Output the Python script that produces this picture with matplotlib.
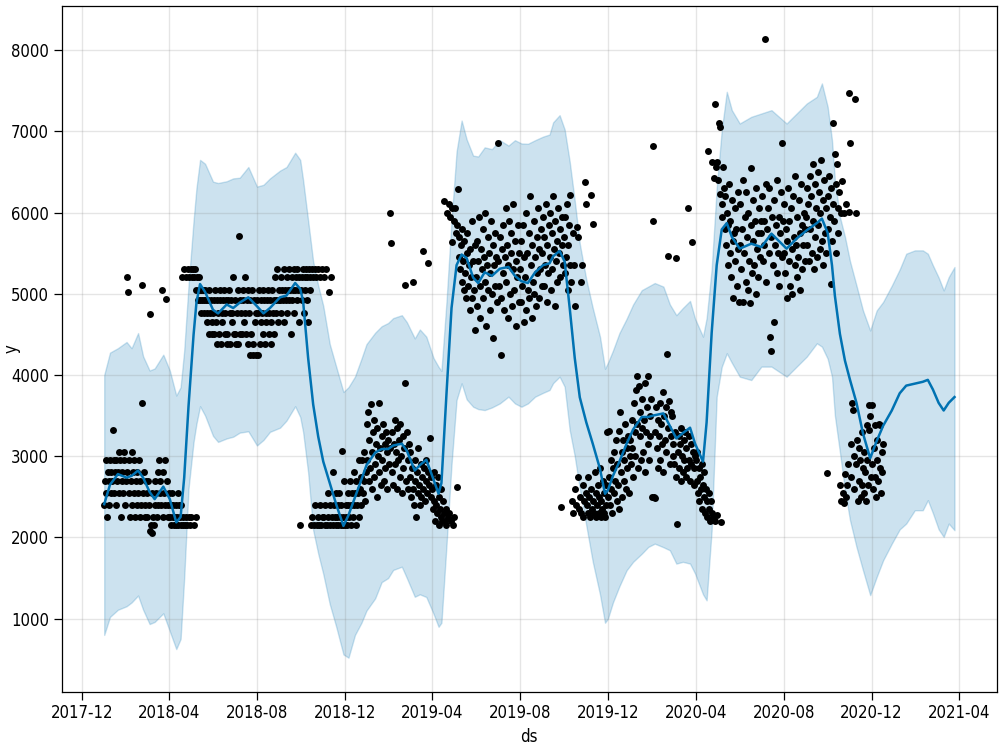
import matplotlib
matplotlib.use("Agg")
import matplotlib.pyplot as plt
import matplotlib.dates as mdates
import pandas as pd

# ---------------- forecast (yhat and uncertainty band) ----------------
fc_dates = [
    "2018-01-01", "2018-01-09", "2018-01-20", "2018-02-01", "2018-02-08", "2018-02-17", "2018-02-24",
    "2018-03-05", "2018-03-12", "2018-03-24", "2018-04-02", "2018-04-11", "2018-04-17", "2018-04-22",
    "2018-04-28", "2018-05-05", "2018-05-09", "2018-05-14", "2018-05-21", "2018-06-01", "2018-06-08",
    "2018-06-20", "2018-06-29", "2018-07-08", "2018-07-20", "2018-08-01", "2018-08-10", "2018-08-19",
    "2018-09-02", "2018-09-11", "2018-09-23", "2018-09-30", "2018-10-04", "2018-10-11", "2018-10-18",
    "2018-10-25", "2018-11-01", "2018-11-10", "2018-11-19", "2018-11-29", "2018-12-06", "2018-12-15",
    "2018-12-24", "2018-12-31", "2019-01-12", "2019-01-21", "2019-01-30", "2019-02-06", "2019-02-18",
    "2019-02-25", "2019-03-08", "2019-03-15", "2019-03-24", "2019-04-03", "2019-04-10", "2019-04-14",
    "2019-04-21", "2019-04-28", "2019-05-05", "2019-05-12", "2019-05-19", "2019-05-28", "2019-06-04",
    "2019-06-13", "2019-06-23", "2019-07-04", "2019-07-16", "2019-07-25", "2019-08-03", "2019-08-12",
    "2019-08-22", "2019-09-02", "2019-09-11", "2019-09-16", "2019-09-25", "2019-10-02", "2019-10-09",
    "2019-10-16", "2019-10-23", "2019-11-01", "2019-11-10", "2019-11-20", "2019-11-27", "2019-12-01",
    "2019-12-08", "2019-12-17", "2019-12-27", "2020-01-05", "2020-01-17", "2020-01-26", "2020-02-04",
    "2020-02-16", "2020-02-25", "2020-03-05", "2020-03-14", "2020-03-24", "2020-03-31", "2020-04-11",
    "2020-04-16", "2020-04-23", "2020-04-30", "2020-05-07", "2020-05-14", "2020-05-21", "2020-06-01",
    "2020-06-17", "2020-07-01", "2020-07-15", "2020-08-05", "2020-08-19", "2020-09-02", "2020-09-16",
    "2020-09-23", "2020-10-01", "2020-10-07", "2020-10-11", "2020-10-18", "2020-10-25", "2020-11-01",
    "2020-11-10", "2020-11-19", "2020-11-29", "2020-12-08", "2020-12-17", "2020-12-29", "2021-01-09",
    "2021-01-18", "2021-01-30", "2021-02-10", "2021-02-17", "2021-02-24", "2021-03-04", "2021-03-11",
    "2021-03-18", "2021-03-26",
]
yhat = [
    2410, 2648, 2780, 2736, 2758, 2824, 2736, 2560, 2472, 2626, 2472, 2186, 2252, 2736,
    3615, 4494, 4890, 5119, 5022, 4802, 4758, 4868, 4824, 4890, 4956, 4846, 4758, 4824,
    4956, 4978, 5132, 5060, 4912, 4209, 3637, 3241, 2934, 2670, 2406, 2142, 2274, 2494,
    2714, 2890, 3044, 3088, 3088, 3132, 3154, 3066, 2824, 2890, 2956, 2714, 2538, 2670,
    3769, 4824, 5352, 5483, 5439, 5198, 5132, 5264, 5220, 5308, 5330, 5220, 5154, 5132,
    5264, 5352, 5374, 5461, 5527, 5396, 4824, 4209, 3725, 3417, 3154, 2846, 2538, 2582,
    2758, 2934, 3154, 3329, 3483, 3483, 3505, 3527, 3373, 3219, 3285, 3351, 3154, 2934,
    3417, 4516, 5352, 5791, 5870, 5700, 5555, 5616, 5575, 5740, 5555, 5680, 5781, 5870,
    5925, 5750, 5350, 4976, 4505, 4176, 3940, 3657, 3281, 2975, 3186, 3375, 3563, 3775,
    3869, 3893, 3916, 3940, 3822, 3657, 3563, 3657, 3728,
]
yhat_upper = [
    4000, 4275, 4330, 4406, 4330, 4516, 4230, 4055, 4080, 4250, 4055, 3747, 3850, 4300,
    5100, 5900, 6300, 6648, 6600, 6380, 6363, 6385, 6420, 6428, 6560, 6319, 6341, 6420,
    6516, 6560, 6736, 6648, 6400, 5900, 5396, 5100, 4850, 4380, 4100, 3790, 3850, 3980,
    4200, 4380, 4520, 4600, 4640, 4700, 4736, 4650, 4450, 4560, 4472, 4209, 4100, 4050,
    4900, 5900, 6750, 7132, 6900, 6700, 6690, 6802, 6780, 6890, 6824, 6890, 6850, 6846,
    6890, 6934, 6960, 7110, 7198, 7022, 6626, 6143, 5615, 5176, 4824, 4472, 4077, 4150,
    4300, 4516, 4692, 4868, 5044, 5088, 5132, 5088, 4868, 4736, 4824, 4912, 4692, 4472,
    4700, 5300, 6300, 7014, 7486, 7260, 7096, 7178, 7219, 7260, 7096, 7219, 7342, 7424,
    7589, 7301, 6890, 6400, 5945, 5700, 5400, 5100, 4794, 4548, 4794, 4900, 5100, 5300,
    5493, 5534, 5534, 5493, 5350, 5200, 5041, 5205, 5329,
]
yhat_lower = [
    800, 1022, 1110, 1153, 1200, 1285, 1110, 934, 960, 1066, 846, 626, 750, 1500,
    2600, 3176, 3400, 3615, 3500, 3250, 3176, 3219, 3240, 3290, 3307, 3132, 3200, 3300,
    3351, 3439, 3615, 3483, 3300, 2800, 2089, 1800, 1550, 1180, 900, 560, 520, 800,
    950, 1100, 1250, 1450, 1500, 1600, 1640, 1500, 1270, 1300, 1267, 1061, 900, 950,
    1900, 2900, 3692, 3897, 3700, 3609, 3580, 3568, 3600, 3650, 3733, 3650, 3609, 3650,
    3733, 3780, 3815, 3900, 3979, 3856, 3322, 3000, 2600, 2150, 1700, 1300, 950, 1000,
    1200, 1400, 1596, 1700, 1800, 1883, 1924, 1880, 1842, 1678, 1700, 1678, 1555, 1300,
    1226, 2089, 3733, 4100, 4267, 4150, 3979, 3938, 4103, 4103, 3979, 4103, 4226, 4390,
    4349, 4200, 3979, 3500, 3050, 2582, 2212, 1883, 1596, 1290, 1513, 1719, 1924, 2100,
    2171, 2335, 2335, 2459, 2300, 2100, 2007, 2171, 2089,
]

# ---------------- observed daily values, one list per month ----------------
jan18 = [2400, 2700, 2950, 2550, 2250, 2800, 2700, 2400, 2950, 2550, 2800, 2700, 3320, 2950, 2550, 2800,
         2400, 2950, 2700, 2800, 3050, 2550, 2950, 2250, 2700, 2800, 2550, 2950, 3050, 2400, 2700]
feb18 = [5200, 2800, 5020, 2550, 2950, 2250, 2700, 3050, 2400, 2800, 2550, 2950, 2250, 2700, 2800, 2400,
         2550, 2950, 2250, 2700, 2400, 5110, 3660, 2550, 2800, 2250, 2400, 2700]
mar18 = [2550, 2250, 2700, 2400, 4750, 2080, 2150, 2550, 2050, 2250, 2150, 2400, 2700, 2550, 2250, 2800,
         2400, 2950, 2550, 2700, 2400, 5040, 2800, 2250, 2550, 2950, 2400, 4940, 2700, 2250, 2400]
apr18 = [2550, 2250, 2400, 2150, 2550, 2250, 2400, 2150, 2250, 2400, 2150, 2250, 2550, 2150, 2400, 2250,
         2150, 2400, 5200, 2150, 2250, 5300, 2150, 2250, 5200, 2150, 5300, 2250, 5200, 2150]
may18 = [5300, 2250, 5200, 5300, 2150, 5200, 5300, 2250, 5050, 5200, 4920, 5050, 5200, 4920, 5050, 4760,
         4920, 5050, 4920, 4760, 5050, 4920, 4650, 4760, 4920, 4500, 5050, 4760, 4920, 4650, 4500]
jun18 = [4760, 4920, 4500, 5050, 4650, 4380, 4920, 4760, 4500, 5050, 4920, 4380, 4760, 4650, 4920, 5050,
         4500, 4760, 4920, 4380, 4500, 4920, 5050, 4760, 4380, 4920, 4650, 4760, 5200, 4500]
jul18 = [4500, 4920, 4380, 4760, 5050, 4380, 5710, 4920, 4500, 4760, 4500, 5050, 4920, 4650, 5200, 4760,
         4500, 4920, 4380, 5050, 4760, 4250, 4920, 4500, 5050, 4250, 4380, 4920, 4650, 4250, 4760]
aug18 = [4920, 4250, 4760, 5050, 4380, 4920, 4650, 4760, 4500, 5050, 4920, 4380, 4760, 4650, 4920, 5050,
         4500, 4760, 4920, 4650, 4380, 5050, 4760, 4920, 4500, 5200, 4760, 4920, 5300, 4650, 4920]
sep18 = [5050, 4920, 5200, 4760, 5050, 4920, 5300, 4650, 5050, 4920, 5200, 4760, 5050, 5300, 4920, 5050,
         4500, 5200, 4920, 5050, 5300, 4760, 5050, 5200, 4920, 5300, 5050, 4650, 5200, 2150]
oct18 = [5050, 4920, 5200, 5300, 4760, 5200, 5050, 5300, 4920, 5200, 4650, 5300, 5050, 5200, 2150, 5300,
         2250, 5200, 2150, 5300, 2400, 5200, 2150, 2250, 5300, 2150, 5200, 2400, 2150, 5300, 2250]
nov18 = [2250, 5200, 2150, 2400, 5300, 2150, 2550, 2250, 5020, 2150, 2400, 5200, 2250, 2150, 2800, 2400,
         2250, 2550, 2150, 2250, 2400, 2150, 2550, 2250, 2150, 2400, 3070, 2150, 2250, 2700]
dec18 = [2150, 2400, 2250, 2150, 2550, 2400, 2250, 2700, 2150, 2400, 2550, 2250, 2800, 2400, 2550, 2150,
         2700, 2400, 2550, 2950, 2250, 2600, 2750, 2400, 2950, 2550, 3050, 2700, 2450, 2800, 3400]
jan19 = [2950, 3550, 2700, 3200, 2850, 3640, 2600, 3050, 3300, 2750, 3450, 2900, 3150, 2500, 3350, 3000,
         2800, 3660, 3100, 2650, 3250, 2950, 3400, 2700, 3150, 2850, 3300, 3050, 2600, 3200, 2900]
feb19 = [5990, 3100, 5620, 2800, 3300, 2650, 3150, 3450, 2900, 3050, 2600, 3350, 2950, 3200, 2750, 3400,
         3000, 2550, 3250, 2850, 3100, 5110, 3900, 2700, 3300, 2950, 2600, 3150]
mar19 = [2750, 3050, 2500, 2850, 5140, 2600, 2400, 2950, 2700, 2250, 2800, 2550, 3100, 2650, 2400, 2900,
         2500, 2750, 2600, 5530, 2850, 2450, 2700, 2950, 2550, 2800, 5380, 2650, 3220, 2500, 2750]
apr19 = [2600, 2350, 2800, 2450, 2200, 2650, 2400, 2300, 2750, 2150, 2500, 2350, 2250, 2600, 2200, 2450,
         2300, 6140, 2200, 2350, 2150, 6000, 2250, 6110, 2300, 5950, 2200, 6050, 5640, 2150]
may19 = [5900, 2250, 6050, 5750, 5850, 2620, 6290, 5450, 5700, 5300, 5600, 5150, 5800, 5400, 5050, 5650,
         5250, 4950, 5500, 5750, 5100, 5350, 4800, 5550, 5200, 5900, 4950, 5400, 5050, 5600, 4550]
jun19 = [5200, 5650, 4850, 5400, 5950, 5100, 4700, 5550, 5300, 5800, 4950, 5450, 5150, 6000, 4600, 5350,
         5700, 5050, 5500, 4800, 5250, 5900, 5000, 5600, 4450, 5350, 5750, 5100, 5450, 4900]
jul19 = [6850, 5400, 5100, 5700, 4950, 4240, 5550, 5250, 5850, 4800, 5450, 6050, 5150, 5600, 4700, 5350,
         5900, 5000, 5500, 5750, 4850, 5300, 6100, 5050, 5650, 4600, 5400, 5200, 5850, 4900, 5500]
aug19 = [5300, 4900, 5650, 5100, 5850, 4650, 5450, 5200, 6000, 4800, 5500, 5050, 5750, 4950, 6200, 5350,
         4700, 5600, 5150, 5900, 5000, 5450, 4850, 5700, 5250, 6050, 4950, 5550, 5300, 5800, 5100]
sep19 = [5500, 5950, 5100, 5700, 5350, 6100, 4900, 5600, 5250, 5850, 5450, 6000, 5050, 5750, 5300, 6200,
         5550, 4850, 5900, 5400, 5650, 5150, 6050, 5500, 5800, 5200, 2380, 5950, 5600, 5350]
oct19 = [5700, 5250, 5950, 5450, 6100, 5050, 5600, 5850, 6220, 5350, 5150, 2450, 5750, 2300, 5350, 2600,
         4850, 2400, 5820, 2750, 5700, 2350, 2500, 5150, 2300, 5350, 2650, 2250, 2450, 6380, 2550]
nov19 = [6110, 2400, 2300, 2750, 2500, 2250, 2600, 6220, 2350, 5860, 2450, 2300, 2800, 2550, 2250, 2400,
         2650, 2300, 2500, 2850, 2250, 2450, 2350, 2700, 2300, 2550, 2250, 2400, 2650, 3300]
dec19 = [2500, 2750, 3310, 2400, 2950, 2600, 2300, 2850, 3050, 2550, 2700, 3200, 2450, 2900, 2650, 3310,
         2350, 3550, 2800, 3050, 2500, 3200, 2700, 2950, 3400, 2600, 3100, 2850, 3250, 2550, 3000]
jan20 = [3200, 2900, 3450, 3100, 2750, 3650, 3300, 3000, 3810, 3400, 3990, 2850, 3860, 3250, 3550, 2950,
         3350, 3700, 3050, 3450, 3900, 2800, 3300, 3600, 3990, 3150, 2950, 3500, 3250, 3700, 2500]
feb20 = [5900, 6820, 2500, 3300, 2490, 3600, 3100, 3450, 2850, 3250, 3650, 2950, 3400, 3150, 3790, 2800,
         3500, 3200, 3050, 3600, 4260, 5460, 3350, 3680, 2900, 3550, 3250, 3500, 3000]
mar20 = [3150, 2900, 3300, 2750, 5440, 2160, 3050, 3250, 2850, 3150, 2700, 3350, 3000, 2800, 3200, 2950,
         3300, 2750, 3100, 2850, 6050, 3250, 2950, 2700, 3150, 2900, 5640, 3050, 2650, 2850, 3000]
apr20 = [2950, 2700, 3050, 2550, 2850, 2450, 2750, 2600, 2900, 2350, 2650, 2500, 2800, 2300, 2600, 2450,
         2250, 6760, 2550, 2350, 2200, 2450, 6620, 2300, 2250, 6430, 7330, 2200, 6560, 2280]
may20 = [6620, 6400, 7100, 6230, 7050, 2190, 6100, 5950, 6560, 6300, 5800, 6200, 5600, 6000, 5350, 5850,
         6350, 5500, 5900, 5200, 6150, 5650, 4950, 5750, 6050, 5400, 5800, 5100, 6250, 5550, 4900]
jun20 = [5600, 6100, 5300, 5800, 4900, 6400, 5500, 5950, 5150, 6250, 5700, 5050, 6000, 5400, 4880, 5850,
         6550, 5250, 5650, 6150, 5350, 5900, 5000, 6300, 5550, 5750, 5200, 6050, 5450, 5900]
jul20 = [5750, 6200, 5400, 5900, 5600, 8140, 6350, 5150, 5800, 6050, 5500, 6300, 4470, 5700, 4290, 5950,
         5350, 4650, 6150, 5600, 5850, 5250, 6400, 5500, 5950, 5100, 5750, 6250, 6850, 5450, 5900]
aug20 = [5500, 6100, 5250, 5800, 4950, 5650, 6300, 5400, 5900, 5100, 6050, 5550, 5000, 6200, 5700, 5350,
         6450, 5600, 5200, 5950, 5450, 6150, 5050, 5750, 6350, 5300, 5850, 5600, 6000, 5400, 5800]
sep20 = [5950, 6300, 5600, 6100, 5400, 6450, 5800, 6200, 5500, 6600, 5900, 5300, 6350, 5700, 6050, 5450,
         6500, 5850, 6250, 5550, 6000, 6650, 5650, 6150, 5350, 6400, 5750, 6050, 5500, 2790]
oct20 = [6200, 5800, 6450, 5950, 5120, 6300, 5650, 6100, 7100, 5900, 6720, 6350, 5500, 6600, 5750, 6050,
         6250, 2650, 5990, 2450, 6390, 2550, 5990, 2420, 2780, 2500, 6100, 2650, 2900, 6010, 7470]
nov20 = [6850, 2750, 3150, 3650, 3570, 2600, 3000, 7400, 5990, 2900, 3200, 2450, 3100, 2700, 2950, 2500,
         3300, 2650, 2850, 3050, 2550, 2800, 2450, 2950, 3380, 2650, 3320, 3630, 3490, 2750]
dec20 = [3630, 2900, 2600, 3100, 2750, 3380, 2500, 2950, 3200, 2700, 3400, 2850, 3380, 2550, 3050, 2800, 3150]

obs_months = [
    ("2018-01-01", jan18), ("2018-02-01", feb18), ("2018-03-01", mar18), ("2018-04-01", apr18),
    ("2018-05-01", may18), ("2018-06-01", jun18), ("2018-07-01", jul18), ("2018-08-01", aug18),
    ("2018-09-01", sep18), ("2018-10-01", oct18), ("2018-11-01", nov18), ("2018-12-01", dec18),
    ("2019-01-01", jan19), ("2019-02-01", feb19), ("2019-03-01", mar19), ("2019-04-01", apr19),
    ("2019-05-01", may19), ("2019-06-01", jun19), ("2019-07-01", jul19), ("2019-08-01", aug19),
    ("2019-09-01", sep19), ("2019-10-01", oct19), ("2019-11-01", nov19), ("2019-12-01", dec19),
    ("2020-01-01", jan20), ("2020-02-01", feb20), ("2020-03-01", mar20), ("2020-04-01", apr20),
    ("2020-05-01", may20), ("2020-06-01", jun20), ("2020-07-01", jul20), ("2020-08-01", aug20),
    ("2020-09-01", sep20), ("2020-10-01", oct20), ("2020-11-01", nov20), ("2020-12-01", dec20),
]

obs_ds, obs_y = [], []
for start, vals in obs_months:
    obs_ds.extend(pd.date_range(start, periods=len(vals), freq="D"))
    obs_y.extend(vals)

# ---------------- plot ----------------
plt.rcParams["font.family"] = ["DejaVu Sans"]
plt.rcParams["font.stretch"] = "condensed"

fig = plt.figure(figsize=(10, 7.5), dpi=100)
ax = fig.add_axes([0.0617, 0.0777, 0.9353, 0.9143])

ax.plot(obs_ds, obs_y, "o", color="k", ms=5, mew=0)
fc = pd.to_datetime(fc_dates)
ax.plot(fc, yhat, ls="-", color="#0072B2", lw=1.8)
ax.fill_between(fc, yhat_lower, yhat_upper, color="#0072B2", alpha=0.2)

ax.grid(True, which="major", color="gray", ls="-", lw=1, alpha=0.2)
ax.xaxis.set_major_locator(mdates.MonthLocator(bymonth=[4, 8, 12]))
ax.xaxis.set_major_formatter(mdates.DateFormatter("%Y-%m"))
ax.set_xlim(pd.Timestamp("2017-11-03"), pd.Timestamp("2021-05-24"))
ax.set_ylim(101, 8542)

ax.tick_params(axis="both", labelsize=12, length=5.5, width=0.9)
ax.set_xlabel("ds", fontsize=12)
ax.set_ylabel("y", fontsize=12)
ax.yaxis.set_label_coords(-0.044, 0.5)
for s in ax.spines.values():
    s.set_linewidth(0.9)

fig.savefig("out.png", dpi=100)
